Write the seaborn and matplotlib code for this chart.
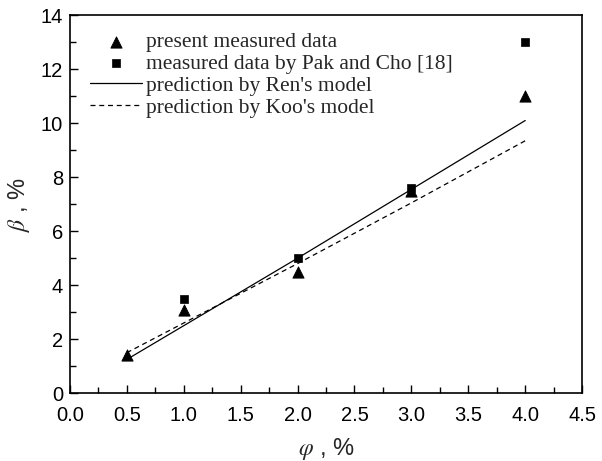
import matplotlib
matplotlib.use("Agg")
import matplotlib.pyplot as plt
import seaborn as sns
import pandas as pd
from matplotlib.ticker import MultipleLocator

sns.set_theme(style="ticks")
plt.rcParams['font.family'] = ['Liberation Sans', 'DejaVu Sans']
plt.rcParams['mathtext.fontset'] = 'stix'

present_x = [0.5, 1.0, 2.0, 3.0, 4.0]
present_y = [1.4, 3.1, 4.5, 7.5, 11.0]
pak_x = [1.0, 2.0, 3.0, 4.0]
pak_y = [3.5, 5.0, 7.6, 13.0]
model_x = [0.5, 1.0, 2.0, 3.0, 4.0]
ren_y = [1.25, 2.5, 5.0, 7.55, 10.1]
koo_y = [1.5, 2.6, 4.8, 7.05, 9.35]

fig = plt.figure(figsize=(6.02, 4.61), dpi=100)
ax = fig.add_axes([0.116, 0.147, 0.851, 0.82])

sns.scatterplot(x=present_x, y=present_y, marker='^', s=65, color='black',
                edgecolor='black', ax=ax, label='present measured data', zorder=3)
sns.scatterplot(x=pak_x, y=pak_y, marker='s', s=38, color='black',
                edgecolor='black', ax=ax, label='measured data by Pak and Cho [18]', zorder=3)
sns.lineplot(x=model_x, y=ren_y, color='black', lw=0.9, ax=ax,
             label="prediction by Ren's model")
sns.lineplot(x=model_x, y=koo_y, color='black', lw=0.9, ls=(0, (4, 3)), ax=ax,
             label="prediction by Koo's model")

ax.set_xlim(0, 4.5)
ax.set_ylim(0, 14)
ax.xaxis.set_major_locator(MultipleLocator(0.5))
ax.xaxis.set_minor_locator(MultipleLocator(0.25))
ax.yaxis.set_major_locator(MultipleLocator(2))
ax.yaxis.set_minor_locator(MultipleLocator(1))
ax.tick_params(which='both', direction='in', top=False, right=False, colors='black',
               labelsize=14.5)
ax.tick_params(which='major', length=6, width=1)
ax.tick_params(which='minor', length=4, width=1)
ax.tick_params(axis='x', which='major', pad=9)
ax.tick_params(axis='y', which='major', pad=5)
for sp in ax.spines.values():
    sp.set_color('black')
    sp.set_linewidth(1.2)

ax.set_xlabel(r'$\varphi$ , %', fontsize=17, labelpad=8)
ax.set_ylabel(r'$\beta$ , %', fontsize=17, labelpad=6)

leg = ax.legend(loc='upper left', frameon=False, prop={'family': 'Liberation Serif', 'size': 15.5},
                handlelength=2.4, handletextpad=0.2, labelspacing=0.08,
                borderaxespad=0.3, bbox_to_anchor=(0.01, 0.995))

fig.savefig('out.png', dpi=100)
